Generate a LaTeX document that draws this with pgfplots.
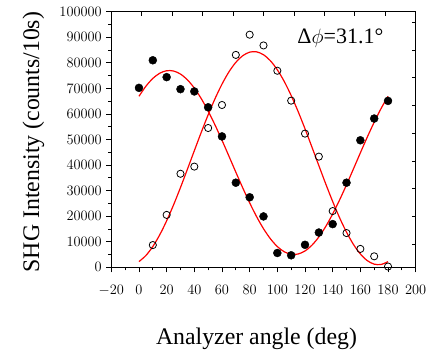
\documentclass[border=0pt]{standalone}
\usepackage{fontspec}
\setmainfont{Liberation Serif}
\usepackage{pgfplots}
\pgfplotsset{compat=1.18}
\begin{document}
\begin{tikzpicture}
\begin{axis}[
 at={(0,0)}, anchor=south west,
 scale only axis, width=304.4pt, height=255.6pt,
 xmin=-20, xmax=200, ymin=0, ymax=100000,
 xtick={-20,0,...,200}, ytick={0,10000,...,100000},
 minor x tick num=1, minor y tick num=1,
 xtick pos=bottom, ytick pos=left,
 tick align=outside,
 major tick length=5pt, minor tick length=3pt,
 scaled y ticks=false,
 yticklabel style={/pgf/number format/fixed, /pgf/number format/1000 sep={}, xshift=-1pt},
 xticklabel style={yshift=-9pt},
 ticklabel style={font=\fontsize{15.5}{18}\selectfont},
 axis line style={line width=0.9pt},
 every tick/.style={black, line width=0.8pt},
 xlabel={Analyzer angle (deg)},
 ylabel={SHG Intensity (counts/10s)},
 label style={font=\fontsize{23.8}{28}\selectfont},
 xlabel style={at={(axis description cs:0.477,-0.3013)}, anchor=base},
 ylabel style={at={(axis description cs:-0.2375,0.49)}, anchor=base},
 clip=false,
]
\addplot[red, line width=1.2pt, smooth] coordinates {
(0,66900)(5,70840)(10,73890)(15,75930)(20,76910)(25,76800)(30,75600)(35,73360)
(40,70120)(45,66010)(50,61130)(55,55640)(60,49710)(65,43510)(70,37230)(75,31080)
(80,25220)(85,19840)(90,15100)(95,11160)(100,8110)(105,6070)(110,5090)(115,5200)
(120,6390)(125,8640)(130,11870)(135,15990)(140,20870)(145,26360)(150,32290)
(155,38490)(160,44770)(165,50920)(170,56780)(175,62160)(180,66900)};
\addplot[red, line width=1.2pt, smooth] coordinates {
(0,2240)(5,4610)(10,8130)(15,12700)(20,18190)(25,24420)(30,31210)(35,38340)
(40,45610)(45,52790)(50,59660)(55,66020)(60,71660)(65,76440)(70,80180)(75,82780)
(80,84180)(85,84300)(90,83160)(95,80800)(100,77270)(105,72700)(110,67210)
(115,60980)(120,54190)(125,47060)(130,39790)(135,32610)(140,25740)(145,19380)
(150,13740)(155,8960)(160,5220)(165,2620)(170,1230)(175,1100)(180,2240)};
\addplot[only marks, mark=*, mark size=4pt, mark options={fill=black, draw=black}] coordinates {
(0,70200)(10,81000)(20,74400)(30,69700)(40,68800)(50,62600)(60,51200)(70,33100)
(80,27400)(90,19900)(100,5600)(110,4700)(120,8800)(130,13600)(140,16900)
(150,33100)(160,49700)(170,58200)(180,65100)};
\addplot[only marks, mark=o, mark size=3.6pt, mark options={draw=black, fill=white, line width=0.8pt}] coordinates {
(10,8700)(20,20500)(30,36600)(40,39400)(50,54500)(60,63500)(70,83100)(80,91000)
(90,86800)(100,76900)(110,65200)(120,52300)(130,43300)(140,22000)(150,13400)
(160,7200)(170,4300)(180,300)};
\node[anchor=base west, inner sep=0pt, font=\fontsize{22}{26}\selectfont] at (axis cs:114.4,87640) {Δ$\phi$=31.1°};
\end{axis}
\begin{axis}[
 at={(0,0)}, anchor=south west,
 scale only axis, width=304.4pt, height=255.6pt,
 xmin=0, xmax=10, ymin=0, ymax=255.6,
 axis line style={draw=none},
 xtick={1,...,9}, xtick pos=top,
 ytick={23.3,51,78.7,106.4,134.1,161.8,189.5,217.2,244.9}, ytick pos=right,
 tick align=inside, major tick length=4pt,
 every tick/.style={black, line width=0.8pt},
 xticklabels={}, yticklabels={},
]
\end{axis}
\pgfresetboundingbox
\path (-111.3pt,-81.7pt) rectangle (322.7pt,267.3pt);
\end{tikzpicture}
\end{document}
